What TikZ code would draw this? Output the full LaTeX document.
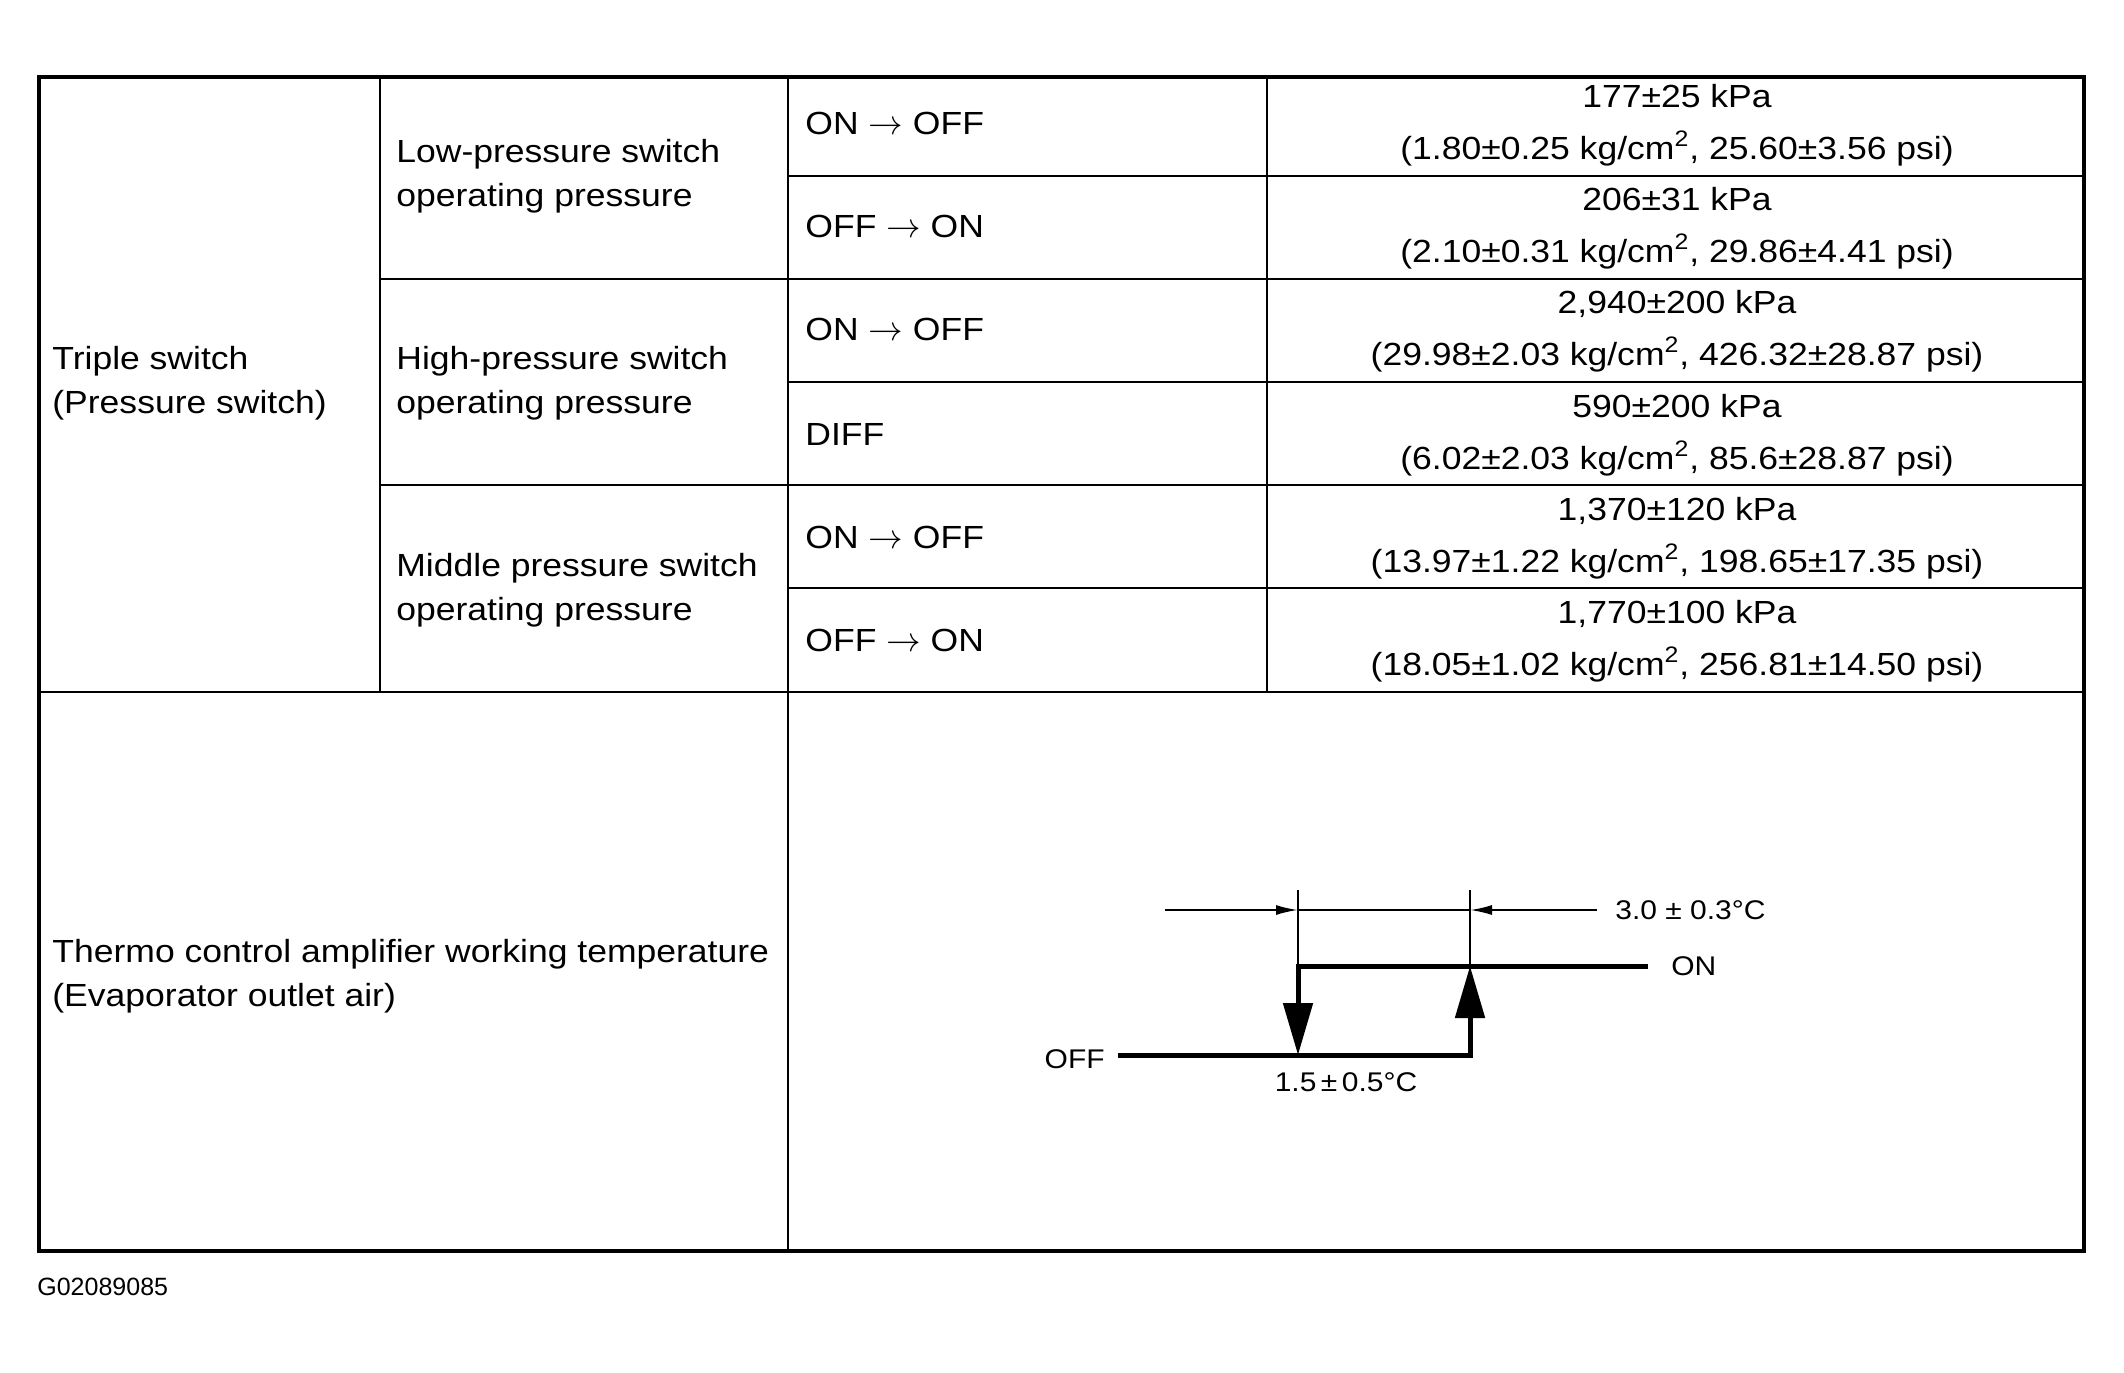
\documentclass[tikz,border=0pt]{standalone}
\usepackage{fontspec}
\setmainfont{Liberation Sans}[FakeStretch=1.11]
\newfontfamily\idfont{Liberation Sans}
\usetikzlibrary{positioning, arrows.meta}

\begin{document}
\begin{tikzpicture}[x=0.5pt, y=-0.5pt,
        txt/.style={font=\fontsize{16}{22}\selectfont, align=left, anchor=west, inner sep=0pt},
        val/.style={font=\fontsize{16}{26}\selectfont, align=center, inner sep=0pt},
        small/.style={font=\fontsize{13.5}{15}\selectfont, inner sep=0pt},
        rule/.style={line width=1.2pt},
        thin/.style={line width=1pt},
        heavy/.style={line width=2.5pt},
        big/.style={-{Triangle[length=26pt, width=14.5pt]}},
        dim/.style={-{Latex[length=11pt, width=5pt]}}]
        \useasboundingbox (0,0) rectangle (2124,1372);

        % table frame and rules
        \draw[line width=2pt] (39,77) rectangle (2084,1251);
        \draw[rule] (380,77) -- (380,692);
        \draw[rule] (788,77) -- (788,1251);
        \draw[rule] (1267,77) -- (1267,692);
        \draw[rule] (39,692) -- (2084,692);
        \draw[rule] (380,279) -- (788,279);
        \draw[rule] (380,485) -- (788,485);
        \draw[rule] (788,176) -- (2084,176);
        \draw[rule] (788,279) -- (2084,279);
        \draw[rule] (788,382) -- (2084,382);
        \draw[rule] (788,485) -- (2084,485);
        \draw[rule] (788,588) -- (2084,588);

        % left columns
        \node[txt] (triple) at (52,383) {Triple switch\\(Pressure switch)};
        \node[txt] (low) at (396,176) {Low-pressure switch\\operating pressure};
        \node[txt] (high) at (396,383) {High-pressure switch\\operating pressure};
        \node[txt] (mid) at (396,590) {Middle pressure switch\\operating pressure};
        \node[txt] (thermo) at (52,976) {Thermo control amplifier working temperature\\(Evaporator outlet air)};

        % switching states
        \node[txt] (S1) at (805,123) {ON $\rightarrow$ OFF};
        \node[txt] (S2) at (805,226) {OFF $\rightarrow$ ON};
        \node[txt] (S3) at (805,329) {ON $\rightarrow$ OFF};
        \node[txt] (S4) at (805,434) {DIFF};
        \node[txt] (S5) at (805,537) {ON $\rightarrow$ OFF};
        \node[txt] (S6) at (805,640) {OFF $\rightarrow$ ON};

        % pressure values
        \node[val] (V1) at (1677,125) {177±25 kPa\\(1.80±0.25 kg/cm\textsuperscript{2}, 25.60±3.56 psi)};
        \node[val] (V2) at (1677,228) {206±31 kPa\\(2.10±0.31 kg/cm\textsuperscript{2}, 29.86±4.41 psi)};
        \node[val] (V3) at (1677,331) {2,940±200 kPa\\(29.98±2.03 kg/cm\textsuperscript{2}, 426.32±28.87 psi)};
        \node[val] (V4) at (1677,435) {590±200 kPa\\(6.02±2.03 kg/cm\textsuperscript{2}, 85.6±28.87 psi)};
        \node[val] (V5) at (1677,538) {1,370±120 kPa\\(13.97±1.22 kg/cm\textsuperscript{2}, 198.65±17.35 psi)};
        \node[val] (V6) at (1677,641) {1,770±100 kPa\\(18.05±1.02 kg/cm\textsuperscript{2}, 256.81±14.50 psi)};

        % thermo hysteresis sketch
        \coordinate (Lt) at (1298,890);
        \coordinate (Rt) at (1470,890);
        \coordinate (Lon) at (1298,966);
        \coordinate (Ron) at (1470,966);
        \coordinate (Loff) at (1298,1055);
        \coordinate (Roff) at (1470,1055);
        \coordinate (onEnd) at (1648,966);
        \coordinate (offStart) at (1118,1055);
        \coordinate (dimL) at (1165,910);
        \coordinate (dimR) at (1597,910);
        \coordinate (dimA) at (1298,910);
        \coordinate (dimB) at (1470,910);

        \draw[thin] (Lt) -- (Lon);
        \draw[thin] (Rt) -- (Ron);
        \draw[thin] (dimA) -- (dimB);
        \draw[thin, dim] (dimL) -- (dimA);
        \draw[thin, dim] (dimR) -- (dimB);
        \draw[heavy, big] (onEnd) -- (Lon) -- (Loff);
        \draw[heavy, big] (offStart) -- (Roff) -- (Ron);

        \node[small, anchor=east] (offlbl) at (1105,1059) {OFF};
        \node[small] (lowlbl) at (1346,1082) {1.5\,±\,0.5°C};
        \node[small, anchor=west] (onlbl) at (1671,966) {ON};
        \node[small, anchor=west] (diflbl) at (1615,910) {3.0 ± 0.3°C};

        % figure id
        \node[font=\idfont\fontsize{12.5}{14}\selectfont, anchor=west, inner sep=0pt] (fig) at (37,1287) {G02089085};
    \end{tikzpicture}
\end{document}
